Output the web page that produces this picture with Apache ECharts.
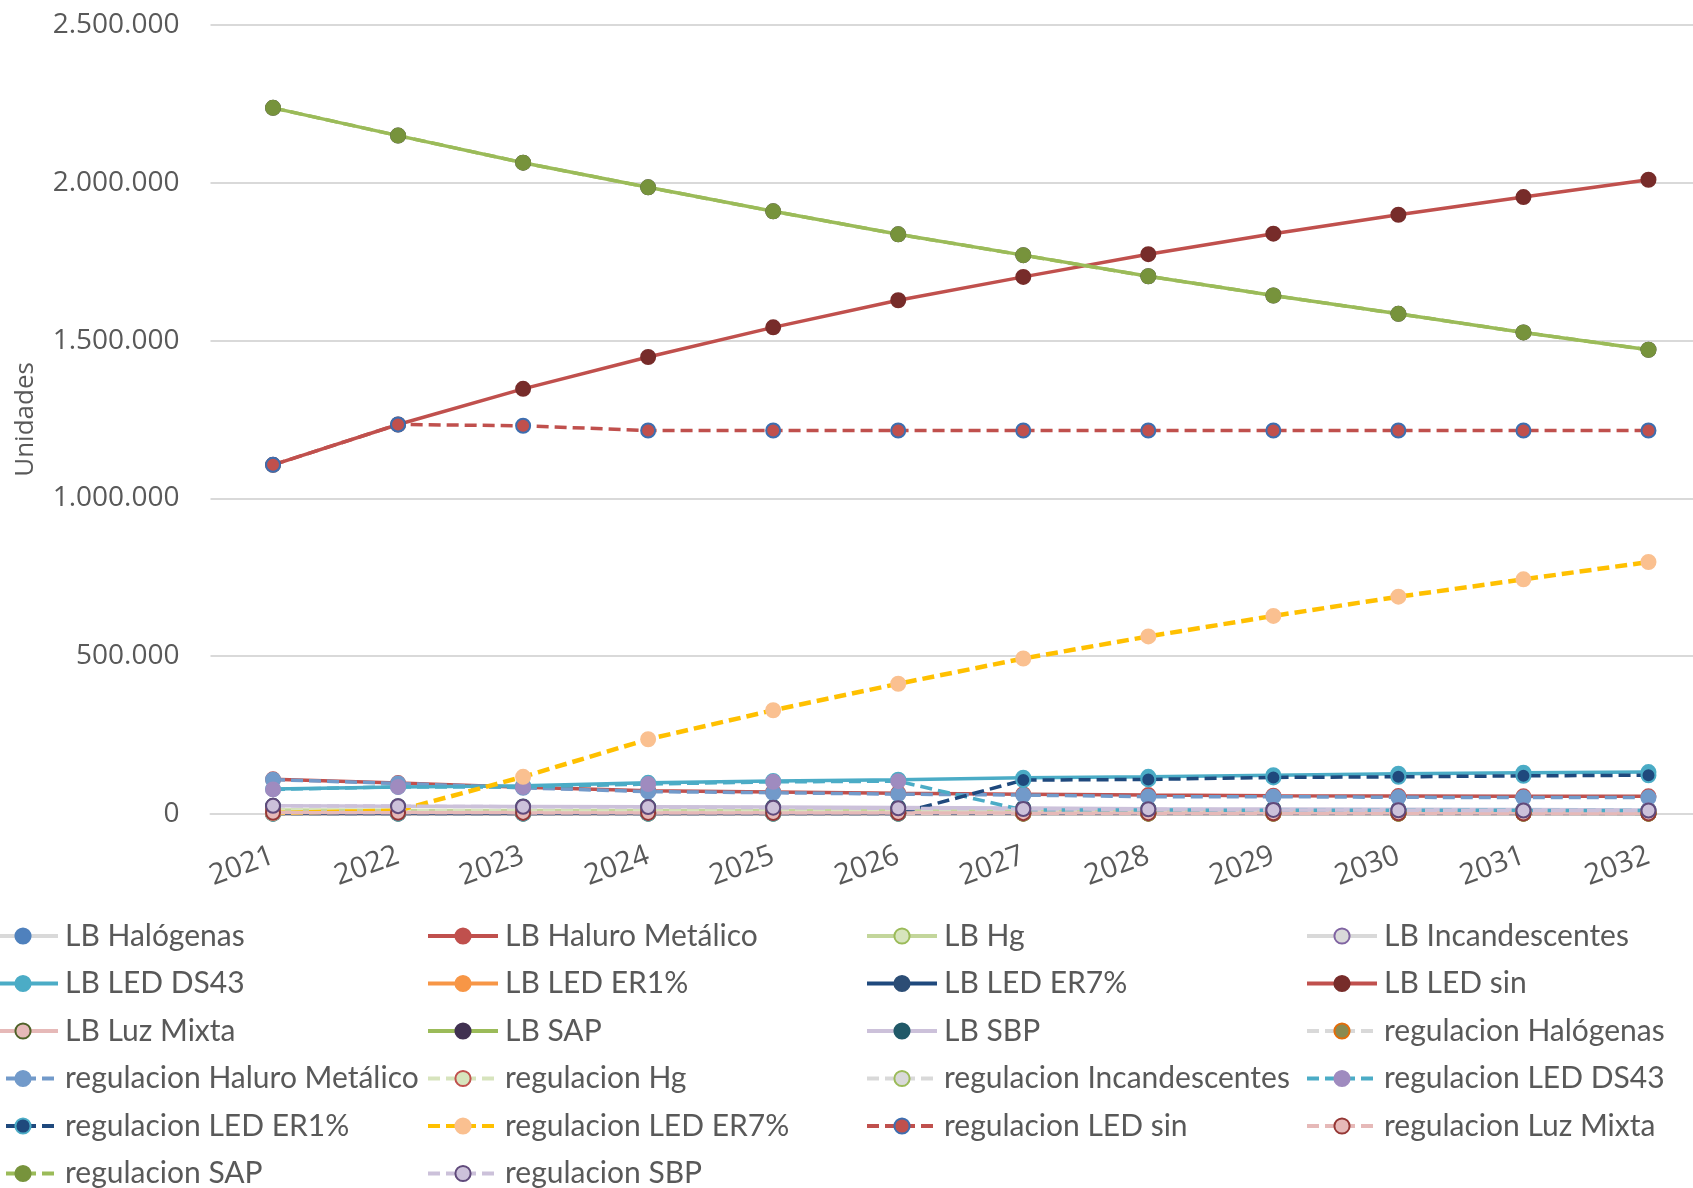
<!DOCTYPE html>
<html>
<head>
<meta charset="utf-8">
<title>Unidades por tecnología</title>
<script src="https://cdn.jsdelivr.net/npm/echarts@6.0.0/dist/echarts.min.js"></script>
<style>
    html, body { margin: 0; padding: 0; background: #fff; overflow: hidden; }
    /* el área del gráfico sigue más allá del borde derecho, como en el original */
    #echarts_div { width: 1720px; height: 1188px; }
</style>
</head>
<body>
<div id="echarts_div"></div>
<script>
var years = ['2021', '2022', '2023', '2024', '2025', '2026', '2027', '2028', '2029', '2030', '2031', '2032'];

// series LB (línea base)
var lbHalogenas = [3000, 2800, 2600, 2400, 2200, 2000, 1800, 1600, 1500, 1400, 1300, 1200];
var lbHaluro = [109000, 97000, 84000, 73000, 69000, 65000, 62000, 59000, 57000, 56000, 55000, 55000];
var lbHg = [12000, 11000, 10500, 10000, 9500, 9000, 8500, 8000, 7500, 7000, 6500, 6000];
var lbIncandescentes = [1500, 1400, 1300, 1200, 1100, 1000, 900, 800, 700, 600, 500, 400];
var lbLedDs43 = [78000, 85000, 89000, 98000, 104000, 108000, 114000, 117000, 122000, 127000, 130000, 132000];
var lbLedEr1 = [0, 0, 0, 0, 0, 0, 0, 0, 0, 0, 0, 0];
var lbLedEr7 = [0, 0, 0, 0, 0, 0, 0, 0, 0, 0, 0, 0];
var lbLedSin = [1106000, 1234000, 1347000, 1448000, 1542000, 1628000, 1702000, 1774000, 1839000, 1899000, 1955000, 2010000];
var lbLuzMixta = [4000, 3800, 3600, 3400, 3200, 3000, 2800, 2600, 2400, 2200, 2000, 1800];
var lbSap = [2238000, 2150000, 2064000, 1986000, 1910000, 1837000, 1771000, 1704000, 1643000, 1585000, 1526000, 1471000];
var lbSbp = [25000, 24000, 23000, 22000, 21000, 20000, 18000, 16000, 15000, 14000, 13000, 12000];

// series regulacion
var regHalogenas = [2000, 1800, 1600, 1400, 1200, 1000, 900, 800, 700, 600, 500, 400];
var regHaluro = [108000, 96000, 82000, 70000, 66500, 62000, 59000, 54000, 54000, 52000, 51000, 51000];
var regHg = [10000, 9500, 9000, 8500, 8000, 7500, 7000, 6500, 6000, 5500, 5000, 4500];
var regIncandescentes = [1000, 900, 800, 700, 600, 500, 400, 300, 300, 200, 200, 200];
var regLedDs43 = [77000, 85000, 85000, 94000, 101000, 103000, 11600, 11600, 11000, 11000, 10500, 10500];
var regLedEr1 = [0, 0, 0, 0, 0, 0, 106500, 108700, 115000, 117000, 120000, 122000];
var regLedEr7 = [2000, 10000, 117000, 236000, 328000, 412000, 492000, 562000, 627000, 688000, 743000, 798000];
var regLedSin = [1106000, 1234000, 1230000, 1215000, 1215000, 1215000, 1215000, 1215000, 1215000, 1215000, 1215000, 1215000];
var regLuzMixta = [3000, 2800, 2600, 2400, 2200, 2000, 1800, 1600, 1400, 1200, 1000, 900];
var regSap = [2238000, 2150000, 2064000, 1986000, 1910000, 1837000, 1771000, 1704000, 1643000, 1585000, 1526000, 1471000];
var regSbp = [25000, 24000, 22000, 21000, 19000, 17000, 15000, 14000, 12000, 11000, 10000, 10000];

var yTicks = [0, 500000, 1000000, 1500000, 2000000, 2500000];

// nombre, datos, color línea, relleno marcador, borde marcador, discontinua
var seriesDef = [
    ['LB Halógenas', lbHalogenas, '#d9d9d9', '#4f81bd', '#4f81bd', false],
    ['LB Haluro Metálico', lbHaluro, '#c0504d', '#c0504d', '#c0504d', false],
    ['LB Hg', lbHg, '#c3d69b', '#d7e4bd', '#9bbb59', false],
    ['LB Incandescentes', lbIncandescentes, '#d9d9d9', '#d9d9d9', '#8064a2', false],
    ['LB LED DS43', lbLedDs43, '#4bacc6', '#4bacc6', '#4bacc6', false],
    ['LB LED ER1%', lbLedEr1, '#f79646', '#f79646', '#f79646', false],
    ['LB LED ER7%', lbLedEr7, '#1f497d', '#2c4d75', '#2c4d75', false],
    ['LB LED sin', lbLedSin, '#c0504d', '#772c2a', '#772c2a', false],
    ['LB Luz Mixta', lbLuzMixta, '#e6b9b8', '#e6b9b8', '#4f6228', false],
    ['LB SAP', lbSap, '#9bbb59', '#403151', '#403151', false],
    ['LB SBP', lbSbp, '#ccc1da', '#215968', '#215968', false],
    ['regulacion Halógenas', regHalogenas, '#d9d9d9', '#8a8a50', '#e36c09', true],
    ['regulacion Haluro Metálico', regHaluro, '#729aca', '#729aca', '#729aca', true],
    ['regulacion Hg', regHg, '#d7e4bd', '#d7e4bd', '#c0504d', true],
    ['regulacion Incandescentes', regIncandescentes, '#d9d9d9', '#d9d9d9', '#9bbb59', true],
    ['regulacion LED DS43', regLedDs43, '#4bacc6', '#9f8bbf', '#9f8bbf', true],
    ['regulacion LED ER1%', regLedEr1, '#1f497d', '#1f497d', '#4bacc6', true],
    ['regulacion LED ER7%', regLedEr7, '#ffc000', '#fac090', '#fac090', true],
    ['regulacion LED sin', regLedSin, '#c0504d', '#c0504d', '#3d6eb0', true],
    ['regulacion Luz Mixta', regLuzMixta, '#e6b9b8', '#e6b9b8', '#953735', true],
    ['regulacion SAP', regSap, '#9bbb59', '#77933c', '#77933c', true],
    ['regulacion SBP', regSbp, '#ccc1da', '#ccc1da', '#604a7b', true]
];

// columnas de la leyenda (como en Excel, 4 columnas)
var legendCols = [[], [], [], []];
for (var i = 0; i < seriesDef.length; i++) {
    legendCols[i % 4].push(seriesDef[i][0]);
}
var legendLeft = [-19, 421, 860, 1300];

function miles(v) {
    return String(v).replace(/\B(?=(\d{3})+(?!\d))/g, '.');
}

function createEchars() {
    var myChart = echarts.init(document.getElementById('echarts_div'));

    var series = [];
    for (var i = 0; i < seriesDef.length; i++) {
        var d = seriesDef[i];
        series.push({
            name: d[0],
            type: 'line',
            data: d[1],
            symbol: 'circle',
            symbolSize: 14,
            lineStyle: {
                color: d[2],
                width: d[0] == 'regulacion LED ER7%' ? 4.5 : 3.5,
                type: d[5] ? [12, 6] : 'solid'
            },
            itemStyle: {
                color: d[3],
                borderColor: d[4],
                borderWidth: 2
            },
            emphasis: { disabled: true }
        });
    }

    var legends = [];
    for (var c = 0; c < 4; c++) {
        legends.push({
            orient: 'vertical',
            left: legendLeft[c],
            top: 916,
            height: 400,
            itemWidth: 70,
            itemHeight: 19,
            itemGap: 17.5,
            lineStyle: { width: 4 },
            data: legendCols[c],
            textStyle: {
                fontFamily: 'Lato',
                fontSize: 30,
                color: '#595959',
                lineHeight: 30,
                padding: [0, 0, 0, 2]
            }
        });
    }

    var option = {
        animation: false,
        backgroundColor: '#ffffff',
        grid: {
            left: 210.5,
            right: 9,
            top: 25.2,
            bottom: 374.3
        },
        legend: legends,
        xAxis: {
            type: 'category',
            data: years,
            boundaryGap: true,
            axisLine: { lineStyle: { color: '#d9d9d9', width: 2 } },
            axisTick: { show: false },
            axisLabel: {
                rotate: 20,
                margin: 41,
                fontFamily: 'Open Sans',
                fontSize: 29,
                color: '#595959'
            }
        },
        yAxis: {
            type: 'value',
            min: yTicks[0],
            max: yTicks[yTicks.length - 1],
            interval: yTicks[1] - yTicks[0],
            name: 'Unidades',
            nameLocation: 'middle',
            nameGap: 172,
            nameTextStyle: {
                fontFamily: 'Open Sans',
                fontSize: 26,
                color: '#595959'
            },
            axisLine: { show: false },
            axisTick: { show: false },
            splitLine: { lineStyle: { color: '#d9d9d9', width: 2 } },
            axisLabel: {
                margin: 31,
                fontFamily: 'Open Sans',
                fontSize: 28,
                color: '#595959',
                formatter: miles
            }
        },
        series: series
    };

    myChart.setOption(option);
}

createEchars();
</script>
</body>
</html>
